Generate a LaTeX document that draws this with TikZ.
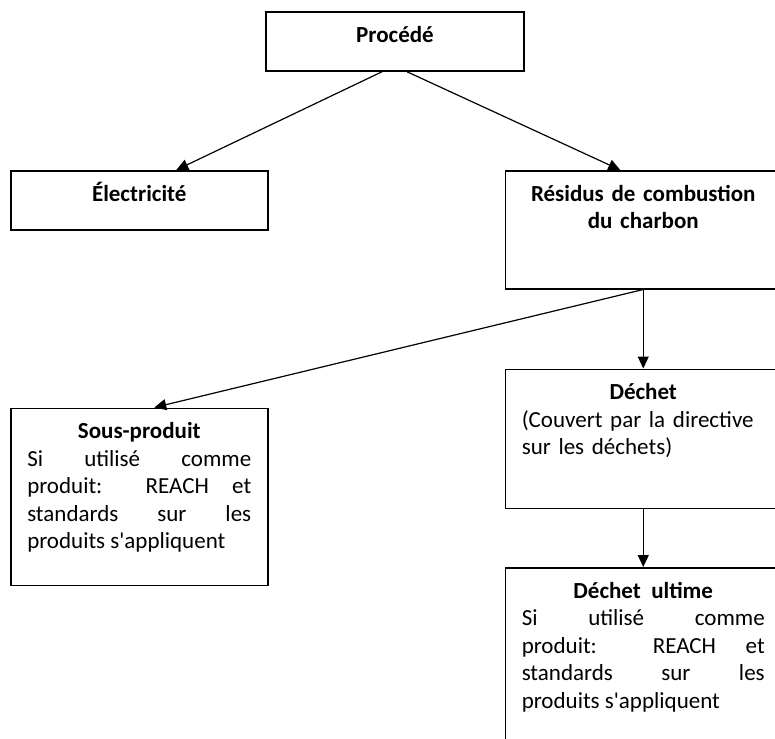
\documentclass[tikz,border=0pt]{standalone}
\usepackage{fontspec}
\newfontfamily\boxfont{Carlito}
\usetikzlibrary{arrows.meta, positioning}

\begin{document}
\begin{tikzpicture}[
          x=1pt, y=-1pt,
          box/.style={draw, line width=1.5pt, inner xsep=16.5pt, inner ysep=0pt,
                      text width=#1, text height=30.5pt, align=center,
                      font=\boxfont\fontsize{23}{27.5}\selectfont},
          txt/.style={box=#1, align=justify},
          arr/.style={-{Triangle[length=12pt, width=11pt]}, line width=1.2pt},
        ]
        \useasboundingbox (0,0) rectangle (775,738);

        \node[box=225pt, text depth=28.5pt] (proc) at (395,41.5) {\bfseries Procédé};

        \node[box=224pt, text depth=28.5pt, anchor=north west] (elec) at (10,170) {\bfseries Électricité};
        \node[box=243pt, text depth=87.5pt, right=236pt of elec.north east, anchor=north west] (resid)
          {\bfseries Résidus de combustion\\du charbon};

        \node[txt=224pt, text depth=146.5pt, below=177pt of elec.south west, anchor=north west] (sous)
          {{\centering\bfseries Sous-produit\par}
           Si utilisé comme\linebreak produit: REACH et\linebreak standards sur les\linebreak produits s'appliquent};
        \node[box=243pt, align=left, text depth=108.5pt, below=79pt of resid.south west, anchor=north west] (dechet)
          {{\centering\bfseries Déchet\par}
           (Couvert par la directive\\sur les déchets)};
        \node[txt=243pt, text depth=200pt, below=58pt of dechet.south west, anchor=north west] (ultime)
          {{\centering\bfseries Déchet~ ultime\par}
           Si utilisé comme\linebreak produit: REACH et\linebreak standards sur les\linebreak produits s'appliquent};

        \draw[arr] ([xshift=-13pt]proc.south) -- ([xshift=37pt]elec.north);
        \draw[arr] ([xshift=12pt]proc.south) -- ([xshift=-23pt]resid.north);
        \draw[arr] (resid.south) -- ([xshift=15pt]sous.north);
        \draw[arr] (resid.south) -- (dechet.north);
        \draw[arr] (dechet.south) -- (ultime.north);
      \end{tikzpicture}
\end{document}
